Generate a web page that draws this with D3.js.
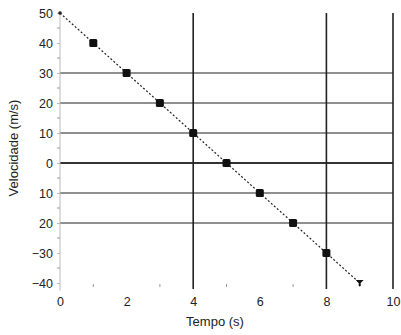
<!DOCTYPE html>
<html>
<head>
<meta charset="utf-8">
<script src="https://cdn.jsdelivr.net/npm/d3@7"></script>
<style>
  body { margin: 0; background: #fff; }
  text { font-family: "Liberation Sans", Arial, sans-serif; fill: #222; }
</style>
</head>
<body>
<svg id="chart" width="401" height="335"></svg>
<script>
// data
const times = [0, 1, 2, 3, 4, 5, 6, 7, 8, 9];
const speeds = [50, 40, 30, 20, 10, 0, -10, -20, -30, -40];
const xTicks = [0, 2, 4, 6, 8, 10];
const xMinorTicks = [1, 3, 5, 7, 9];
const yTicks = [50, 40, 30, 20, 10, 0, -10, -20, -30, -40];
const yTickLabels = ['50', '40', '30', '20', '10', '0', '10', '20', '\u221230', '\u221240'];
const yMinorTicks = [45, 35, 25, 15, 5, -5, -15, -25, -35];
const hGrid = [30, 20, 10, -10, -20];
const vGrid = [4, 8, 10];
const xTitle = 'Tempo (s)';
const yTitle = 'Velocidade (m/s)';

const svg = d3.select('#chart');
const x = d3.scaleLinear().domain([0, 10]).range([60, 393]);
const y = d3.scaleLinear().domain([-40, 50]).range([283, 13]);

// horizontal grid
svg.selectAll('.hgrid').data(hGrid).join('line')
  .attr('x1', x(0)).attr('x2', x(10))
  .attr('y1', d => y(d)).attr('y2', d => y(d))
  .attr('stroke', '#6a6a6a').attr('stroke-width', 1.5);

// zero line
svg.append('line')
  .attr('x1', x(0)).attr('x2', x(10))
  .attr('y1', y(0)).attr('y2', y(0))
  .attr('stroke', '#333').attr('stroke-width', 2.2);

// vertical lines
svg.selectAll('.vgrid').data(vGrid).join('line')
  .attr('x1', d => x(d)).attr('x2', d => x(d))
  .attr('y1', y(50)).attr('y2', y(-42))
  .attr('stroke', '#222').attr('stroke-width', 1.6);

// y axis
const yAxis = d3.axisLeft(y).tickValues(yTicks).tickSize(3).tickPadding(4)
  .tickFormat((d, i) => yTickLabels[i]);
const gy = svg.append('g').attr('transform', `translate(${x(0)},0)`).call(yAxis);
gy.select('.domain').attr('stroke', '#bbb').attr('d', `M0,${y(50)}V${y(-42.5)}`);
gy.selectAll('.tick line').attr('stroke', '#bbb');
gy.selectAll('.tick text').style('font-size', '12.5px').attr('fill', '#222');
svg.append('g').selectAll('line').data(yMinorTicks).join('line')
  .attr('x1', x(0) - 3).attr('x2', x(0))
  .attr('y1', d => y(d)).attr('y2', d => y(d))
  .attr('stroke', '#999');

// x axis
const xAxis = d3.axisBottom(x).tickValues(xTicks).tickSize(0).tickPadding(14);
const gx = svg.append('g').attr('transform', `translate(0,${y(-40)})`).call(xAxis);
gx.select('.domain').remove();
gx.selectAll('.tick text').style('font-size', '12.5px').attr('fill', '#222');
svg.append('g').selectAll('line').data(xMinorTicks).join('line')
  .attr('x1', d => x(d)).attr('x2', d => x(d))
  .attr('y1', y(-40) + 1).attr('y2', y(-40) + 4)
  .attr('stroke', '#999');

// dashed line
const pts = times.map((t, i) => [t, speeds[i]]);
svg.append('path').datum(pts)
  .attr('d', d3.line().x(d => x(d[0])).y(d => y(d[1])))
  .attr('fill', 'none').attr('stroke', '#222')
  .attr('stroke-width', 1.2).attr('stroke-dasharray', '2,2');

// markers
svg.selectAll('.pt').data(pts.slice(1, -1)).join('rect')
  .attr('x', d => x(d[0]) - 4).attr('y', d => y(d[1]) - 4)
  .attr('width', 8).attr('height', 8).attr('rx', 1.5).attr('fill', '#111');
svg.append('circle').datum(pts[0])
  .attr('cx', d => x(d[0])).attr('cy', d => y(d[1])).attr('r', 1.8).attr('fill', '#222');
svg.append('path').datum(pts[pts.length - 1])
  .attr('transform', d => `translate(${x(d[0])},${y(d[1])})`)
  .attr('d', 'M-4,-3H4L1,0V3H-1V0Z').attr('fill', '#111');

// titles
svg.append('text').attr('x', 215).attr('y', 326)
  .attr('text-anchor', 'middle').style('font-size', '13px').text(xTitle);
svg.append('text').attr('transform', `translate(18,${(y(50) + y(-40)) / 2}) rotate(-90)`)
  .attr('text-anchor', 'middle').style('font-size', '13px').text(yTitle);
</script>
</body>
</html>
